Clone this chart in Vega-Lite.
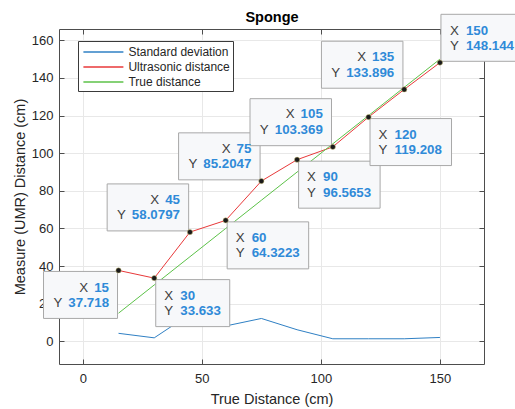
{
  "$schema": "https://vega.github.io/schema/vega-lite/v6.json",
  "width": 425,
  "height": 335,
  "autosize": {"type": "none"},
  "padding": {"left": 59, "top": 29, "right": 31, "bottom": 45},
  "background": "white",
  "data": {
    "values": [
      {"x": 15, "Standard deviation": 4.3, "Ultrasonic distance": 37.718, "True distance": 15},
      {"x": 30, "Standard deviation": 1.9, "Ultrasonic distance": 33.633, "True distance": 30},
      {"x": 45, "Standard deviation": 14.5, "Ultrasonic distance": 58.0797, "True distance": 45},
      {"x": 60, "Standard deviation": 8.2, "Ultrasonic distance": 64.3223, "True distance": 60},
      {"x": 75, "Standard deviation": 12.2, "Ultrasonic distance": 85.2047, "True distance": 75},
      {"x": 90, "Standard deviation": 6.2, "Ultrasonic distance": 96.5653, "True distance": 90},
      {"x": 105, "Standard deviation": 1.4, "Ultrasonic distance": 103.369, "True distance": 105},
      {"x": 120, "Standard deviation": 1.4, "Ultrasonic distance": 119.208, "True distance": 120},
      {"x": 135, "Standard deviation": 1.4, "Ultrasonic distance": 133.896, "True distance": 135},
      {"x": 150, "Standard deviation": 2.1, "Ultrasonic distance": 148.144, "True distance": 150}
    ]
  },
  "transform": [
    {"calculate": "format(datum.x, 'd')", "as": "xs"},
    {"calculate": "format(datum['Ultrasonic distance'], '.6~g')", "as": "ys"},
    {"calculate": "length(datum.ys)", "as": "n"}
  ],
  "layer": [
    {
      "transform": [
        {"fold": ["Standard deviation", "Ultrasonic distance", "True distance"], "as": ["series", "value"]}
      ],
      "mark": {"type": "line", "strokeWidth": 1},
      "encoding": {
        "x": {
          "field": "x", "type": "quantitative",
          "scale": {"domain": [-10, 168.5], "nice": false, "zero": false},
          "axis": {
            "orient": "bottom", "values": [0, 50, 100, 150], "grid": true,
            "title": "True Distance (cm)", "labelPadding": 13.6, "labelFlush": false,
            "titleY": 39.6, "titleBaseline": "alphabetic"
          }
        },
        "y": {
          "field": "value", "type": "quantitative",
          "scale": {"domain": [-12, 166], "nice": false, "zero": false},
          "axis": {
            "orient": "left", "values": [0, 20, 40, 60, 80, 100, 120, 140, 160], "grid": true,
            "title": "Measure (UMR) Distance (cm)", "labelPadding": 11, "labelFlush": false,
            "titleX": -34.3, "titleY": 167.5, "titleBaseline": "alphabetic", "titleAngle": -90
          }
        },
        "color": {
          "field": "series", "type": "nominal",
          "scale": {
            "domain": ["Standard deviation", "Ultrasonic distance", "True distance"],
            "range": ["#2f80c4", "#e8393a", "#5cc248"]
          },
          "legend": {
            "orient": "none", "legendX": 19, "legendY": 12, "title": null,
            "symbolType": "M-2.857,0H2.857", "symbolSize": 196, "symbolStrokeWidth": 1.5,
            "symbolOffset": 14.4, "labelOffset": 17,
            "labelFont": "Liberation Sans", "labelFontSize": 12, "labelColor": "#262626",
            "padding": 3, "rowPadding": 1,
            "strokeColor": "#3a3a3a", "fillColor": "white"
          }
        }
      }
    },
    {
      "encoding": {
        "x": {"field": "x", "type": "quantitative", "scale": {"domain": [-10, 168.5], "nice": false, "zero": false}, "axis": null},
        "y": {"field": "Ultrasonic distance", "type": "quantitative", "scale": {"domain": [-12, 166], "nice": false, "zero": false}, "axis": null}
      },
      "layer": [
        {
          "transform": [{"filter": "datum.x == 15"}],
          "mark": {"type": "point", "filled": true, "size": 4, "opacity": 1, "fill": "#f7f8fa", "stroke": "#a8a8a8", "strokeWidth": 1},
          "encoding": {"shape": {"condition": {"test": "datum.n < 7", "value": "M-1,1H-75V48H-1Z"}, "value": "M-1,1H-82.5V48H-1Z"}}
        },
        {
          "transform": [{"filter": "indexof([30, 60, 90, 120], datum.x) >= 0"}],
          "mark": {"type": "point", "filled": true, "size": 4, "opacity": 1, "fill": "#f7f8fa", "stroke": "#a8a8a8", "strokeWidth": 1},
          "encoding": {"shape": {"condition": {"test": "datum.n < 7", "value": "M1.5,1.5H75.5V48.5H1.5Z"}, "value": "M1.5,1.5H83V48.5H1.5Z"}}
        },
        {
          "transform": [{"filter": "indexof([45, 75, 105, 135], datum.x) >= 0"}],
          "mark": {"type": "point", "filled": true, "size": 4, "opacity": 1, "fill": "#f7f8fa", "stroke": "#a8a8a8", "strokeWidth": 1},
          "encoding": {"shape": {"condition": {"test": "datum.n < 7", "value": "M-1.3,-1.2H-75.3V-48.2H-1.3Z"}, "value": "M-1.3,-1.2H-82.8V-48.2H-1.3Z"}}
        },
        {
          "transform": [{"filter": "datum.x == 150"}],
          "mark": {"type": "point", "filled": true, "size": 4, "opacity": 1, "fill": "#f7f8fa", "stroke": "#a8a8a8", "strokeWidth": 1},
          "encoding": {"shape": {"condition": {"test": "datum.n < 7", "value": "M1,-1.3H75V-48.3H1Z"}, "value": "M1,-1.3H82.5V-48.3H1Z"}}
        }
      ]
    },
    {
      "mark": {"type": "point", "shape": "circle", "filled": true, "size": 28, "opacity": 1, "fill": "#1a1a1a", "stroke": "#d9cc86", "strokeWidth": 0.5},
      "encoding": {
        "x": {
          "field": "x", "type": "quantitative",
          "scale": {"domain": [-10, 168.5], "nice": false, "zero": false},
          "axis": {
            "orient": "top", "values": [0, 50, 100, 150], "labels": false, "grid": false,
            "title": "Sponge", "titleFontWeight": "bold", "titleFontSize": 14.5, "titleColor": "#000000",
            "titleX": 212.5, "titleY": -8, "titleBaseline": "alphabetic", "titleAlign": "center"
          }
        },
        "y": {
          "field": "Ultrasonic distance", "type": "quantitative",
          "scale": {"domain": [-12, 166], "nice": false, "zero": false},
          "axis": {"orient": "right", "values": [0, 20, 40, 60, 80, 100, 120, 140, 160], "labels": false, "title": null, "grid": false}
        }
      }
    },
    {
      "encoding": {
        "x": {"field": "x", "type": "quantitative", "scale": {"domain": [-10, 168.5], "nice": false, "zero": false}, "axis": null},
        "y": {"field": "Ultrasonic distance", "type": "quantitative", "scale": {"domain": [-12, 166], "nice": false, "zero": false}, "axis": null}
      },
      "layer": [
        {
          "transform": [{"filter": "datum.x == 15"}],
          "layer": [
            {"mark": {"type": "text", "align": "right", "baseline": "alphabetic", "dx": -30.3, "dy": 21.5, "font": "Liberation Sans", "fontSize": 13.3, "color": "#404040", "text": "X"}},
            {"mark": {"type": "text", "align": "right", "baseline": "alphabetic", "dx": -56.2, "dy": 37, "font": "Liberation Sans", "fontSize": 13.3, "color": "#404040", "text": "Y"}},
            {"mark": {"type": "text", "align": "right", "baseline": "alphabetic", "dx": -9.5, "dy": 21.5, "font": "Liberation Sans", "fontSize": 13.3, "fontWeight": "bold", "color": "#2f8ad8"}, "encoding": {"text": {"field": "xs"}}},
            {"mark": {"type": "text", "align": "right", "baseline": "alphabetic", "dx": -9.5, "dy": 37, "font": "Liberation Sans", "fontSize": 13.3, "fontWeight": "bold", "color": "#2f8ad8"}, "encoding": {"text": {"field": "ys"}}}
          ]
        },
        {
          "transform": [{"filter": "indexof([30, 60, 90, 120], datum.x) >= 0"}],
          "layer": [
            {"mark": {"type": "text", "align": "left", "baseline": "alphabetic", "dx": 10, "dy": 21.5, "font": "Liberation Sans", "fontSize": 13.3, "color": "#404040", "text": "X"}},
            {"mark": {"type": "text", "align": "left", "baseline": "alphabetic", "dx": 10, "dy": 37, "font": "Liberation Sans", "fontSize": 13.3, "color": "#404040", "text": "Y"}},
            {"mark": {"type": "text", "align": "left", "baseline": "alphabetic", "dx": 26, "dy": 21.5, "font": "Liberation Sans", "fontSize": 13.3, "fontWeight": "bold", "color": "#2f8ad8"}, "encoding": {"text": {"field": "xs"}}},
            {"mark": {"type": "text", "align": "left", "baseline": "alphabetic", "dx": 26, "dy": 37, "font": "Liberation Sans", "fontSize": 13.3, "fontWeight": "bold", "color": "#2f8ad8"}, "encoding": {"text": {"field": "ys"}}}
          ]
        },
        {
          "transform": [{"filter": "indexof([45, 75, 105, 135], datum.x) >= 0"}],
          "layer": [
            {"transform": [{"filter": "length(datum.xs) == 2"}], "mark": {"type": "text", "align": "right", "baseline": "alphabetic", "dx": -30.8, "dy": -28.5, "font": "Liberation Sans", "fontSize": 13.3, "color": "#404040", "text": "X"}},
            {"transform": [{"filter": "length(datum.xs) == 3"}], "mark": {"type": "text", "align": "right", "baseline": "alphabetic", "dx": -38.2, "dy": -28.5, "font": "Liberation Sans", "fontSize": 13.3, "color": "#404040", "text": "X"}},
            {"mark": {"type": "text", "align": "right", "baseline": "alphabetic", "dx": -64.1, "dy": -12.8, "font": "Liberation Sans", "fontSize": 13.3, "color": "#404040", "text": "Y"}},
            {"mark": {"type": "text", "align": "right", "baseline": "alphabetic", "dx": -10, "dy": -28.5, "font": "Liberation Sans", "fontSize": 13.3, "fontWeight": "bold", "color": "#2f8ad8"}, "encoding": {"text": {"field": "xs"}}},
            {"mark": {"type": "text", "align": "right", "baseline": "alphabetic", "dx": -10, "dy": -12.8, "font": "Liberation Sans", "fontSize": 13.3, "fontWeight": "bold", "color": "#2f8ad8"}, "encoding": {"text": {"field": "ys"}}}
          ]
        },
        {
          "transform": [{"filter": "datum.x == 150"}],
          "layer": [
            {"mark": {"type": "text", "align": "left", "baseline": "alphabetic", "dx": 10, "dy": -28, "font": "Liberation Sans", "fontSize": 13.3, "color": "#404040", "text": "X"}},
            {"mark": {"type": "text", "align": "left", "baseline": "alphabetic", "dx": 10, "dy": -12.3, "font": "Liberation Sans", "fontSize": 13.3, "color": "#404040", "text": "Y"}},
            {"mark": {"type": "text", "align": "left", "baseline": "alphabetic", "dx": 26, "dy": -28, "font": "Liberation Sans", "fontSize": 13.3, "fontWeight": "bold", "color": "#2f8ad8"}, "encoding": {"text": {"field": "xs"}}},
            {"mark": {"type": "text", "align": "left", "baseline": "alphabetic", "dx": 26, "dy": -12.3, "font": "Liberation Sans", "fontSize": 13.3, "fontWeight": "bold", "color": "#2f8ad8"}, "encoding": {"text": {"field": "ys"}}}
          ]
        }
      ]
    }
  ],
  "resolve": {"axis": {"x": "independent", "y": "independent"}},
  "config": {
    "view": {"stroke": null},
    "axis": {
      "labelFont": "Liberation Sans",
      "titleFont": "Liberation Sans",
      "labelFontSize": 13,
      "titleFontSize": 14.5,
      "titleFontWeight": "normal",
      "labelColor": "#262626",
      "titleColor": "#262626",
      "domainColor": "#4d4d4d",
      "domainWidth": 1,
      "tickColor": "#4d4d4d",
      "tickWidth": 1,
      "tickSize": -5,
      "gridColor": "#e8e8e8",
      "gridWidth": 1
    }
  }
}
